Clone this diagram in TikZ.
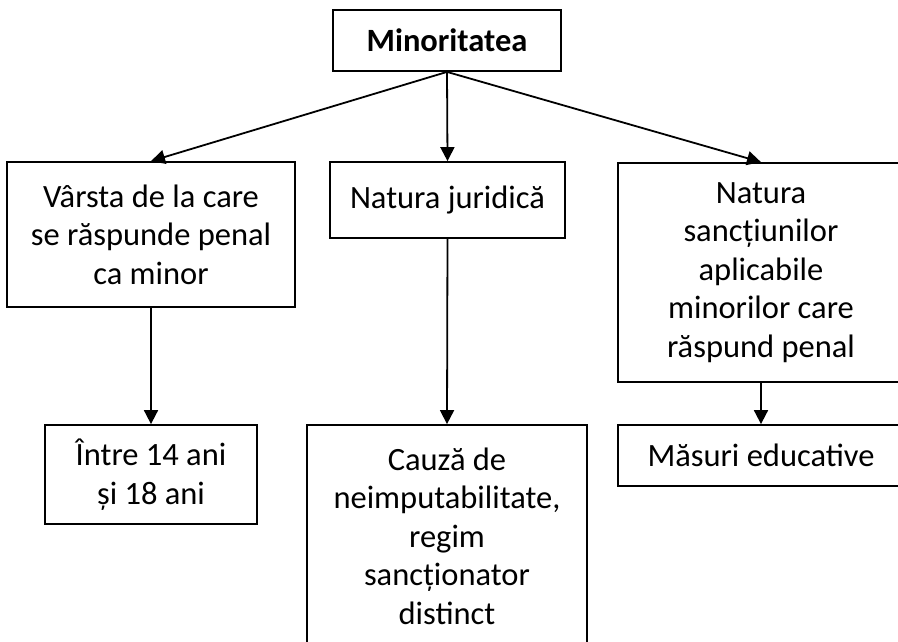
\documentclass[tikz,border=0pt]{standalone}
\usepackage{fontspec}
\setmainfont{Carlito}
\usetikzlibrary{arrows.meta}
\begin{document}
\begin{tikzpicture}[x=1pt,y=-1pt,
  boxnode/.style={draw,line width=1.8pt,align=center,inner sep=0pt,font=\fontsize{32.5}{38.5}\selectfont},
  arr/.style={line width=1.8pt,-{Triangle[length=14pt,width=14pt]}}]
\clip (0,0) rectangle (898,641);
% level 0
\node[boxnode,minimum width=228pt,minimum height=61pt,font=\fontsize{32.5}{38.5}\selectfont\bfseries] (minor) at (447,40.5) {Minoritatea};
% level 1
\node[boxnode,minimum width=288pt,minimum height=145pt] (varsta) at (151,234.5) {Vârsta de la care\\se răspunde penal\\ca minor};
\node[boxnode,minimum width=235pt,minimum height=76pt] (natura) at (447.5,200) {Natura juridică};
\node[boxnode,minimum width=286pt,minimum height=219pt] (sanctiuni) at (761,272.5) {Natura\\sancțiunilor\\aplicabile\\minorilor care\\răspund penal};
% level 2
\node[boxnode,minimum width=212pt,minimum height=99pt] (ani) at (151,474.5) {Între 14 ani\\și 18 ani};
\node[boxnode,minimum width=280pt,minimum height=222pt] (cauza) at (447,536) {Cauză de\\neimputabilitate,\\regim\\sancționator\\distinct};
\node[boxnode,minimum width=286pt,minimum height=61pt] (masuri) at (761,455.5) {Măsuri educative};
% arrows
\draw[arr] (minor.south) -- (varsta.north);
\draw[arr] (minor.south) -- (natura.north);
\draw[arr] (minor.south) -- (sanctiuni.north);
\draw[arr] (varsta.south) -- (ani.north);
\draw[arr] (natura.south) -- (cauza.north);
\draw[arr] (sanctiuni.south) -- (masuri.north);
\end{tikzpicture}
\end{document}
